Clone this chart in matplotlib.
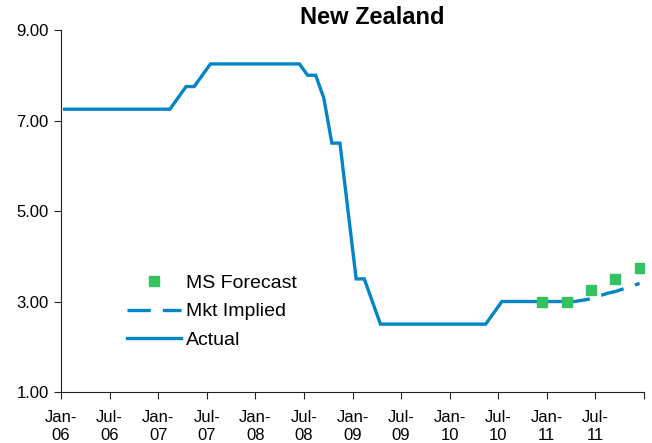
import matplotlib
matplotlib.use('Agg')
import matplotlib.pyplot as plt
import numpy as np

plt.rcParams['font.family'] = ['Liberation Sans', 'DejaVu Sans']

# monthly policy rate, Jan-06 .. Mar-11
actual = ([7.25] * 14 + [7.5, 7.75, 7.75, 8.0] + [8.25] * 12 +
          [8.0, 8.0, 7.5, 6.5, 6.5, 5.0, 3.5, 3.5, 3.0] + [2.5] * 14 +
          [2.75] + [3.0] * 9)
actual_start = 0          # months after Jan-06

# market implied path, Mar-11 .. Dec-11
mkt_implied = [3.0, 3.0, 3.03, 3.06, 3.12, 3.18, 3.22, 3.28, 3.34, 3.40]
mkt_start = 62

# quarterly forecasts Dec-10 .. Dec-11
ms_forecast = [3.0, 3.0, 3.25, 3.5, 3.75]
ms_months = [59, 62, 65, 68, 71]

tick_labels = ['Jan-\n06', 'Jul-\n06', 'Jan-\n07', 'Jul-\n07', 'Jan-\n08', 'Jul-\n08',
               'Jan-\n09', 'Jul-\n09', 'Jan-\n10', 'Jul-\n10', 'Jan-\n11', 'Jul-\n11', '']

blue = '#0284c7'
green = '#34c25f'
mid = 0.45  # points sit mid-month

fig = plt.figure(figsize=(6.52, 4.43), dpi=100)
ax = fig.add_axes([61/652, 1-392/443, (644-61)/652, (392-30)/443])

x_act = actual_start + np.arange(len(actual)) + mid
x_mkt = mkt_start + np.arange(len(mkt_implied)) + mid
x_ms = np.array(ms_months) + mid

ax.plot(x_act, actual, color=blue, lw=2.4, label='Actual', solid_joinstyle='miter')
ax.plot(x_mkt, mkt_implied, color=blue, lw=2.4, label='Mkt Implied',
        dashes=(7.0, 3.6))
ax.plot(x_ms, ms_forecast, ls='none', marker='s', ms=7.5, color=green,
        label='MS Forecast')

ax.set_xlim(0, 72)
ax.set_ylim(1, 9)
ax.set_xticks(np.arange(0, 73, 6))
ax.set_xticklabels(tick_labels, linespacing=1.25)
ax.set_yticks([1, 3, 5, 7, 9])
ax.set_yticklabels(['%.2f' % v for v in [1, 3, 5, 7, 9]])
ax.tick_params(labelsize=12, length=5, width=0.8, colors='#222222', labelcolor='black')
ax.tick_params(axis='x', pad=8)
ax.tick_params(axis='y', pad=4)
for s in ['top', 'right']:
    ax.spines[s].set_visible(False)
for s in ['left', 'bottom']:
    ax.spines[s].set_linewidth(0.8)
    ax.spines[s].set_color('#222222')

h, l = ax.get_legend_handles_labels()
ax.legend(h[::-1], l[::-1], loc='upper left', bbox_to_anchor=(127/652, 1-274/443),
          bbox_transform=fig.transFigure, frameon=False, fontsize=14,
          handlelength=2.8, handletextpad=0.22, labelspacing=0.57,
          borderpad=0, borderaxespad=0)

fig.text(372/652, 1-18/443, 'New Zealand', ha='center', va='center',
         fontsize=17, fontweight='bold')

fig.savefig('out.png', dpi=100)
